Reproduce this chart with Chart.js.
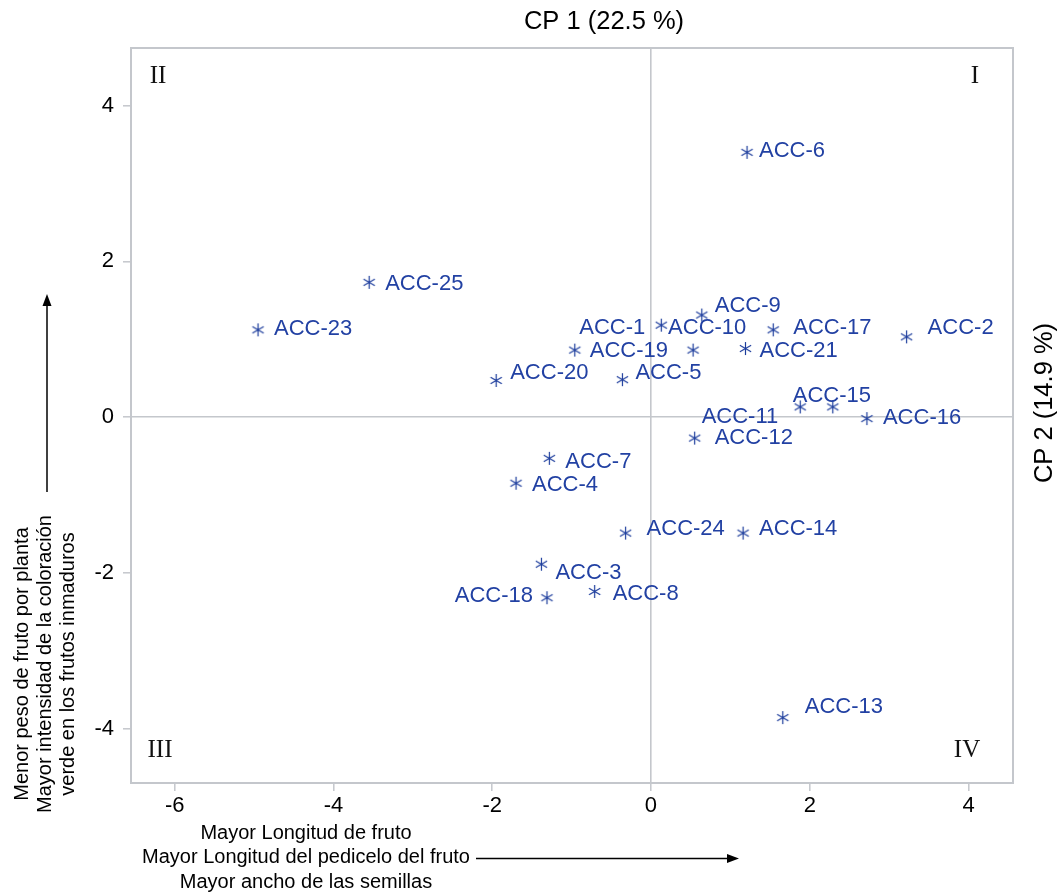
<!DOCTYPE html>
<html>
<head>
<meta charset="utf-8">
<script src="https://cdn.jsdelivr.net/npm/chart.js@4.4.0/dist/chart.umd.min.js"></script>
<style>
  html, body { margin: 0; padding: 0; background: #fff; }
  #wrap { width: 1062px; height: 892px; position: relative; }
</style>
</head>
<body>
<div id="wrap"><canvas id="pca"></canvas></div>
<script>
// accession scores on the first two principal components
const names = ['ACC-1', 'ACC-2', 'ACC-3', 'ACC-4', 'ACC-5', 'ACC-6', 'ACC-7', 'ACC-8',
  'ACC-9', 'ACC-10', 'ACC-11', 'ACC-12', 'ACC-13', 'ACC-14', 'ACC-15', 'ACC-16',
  'ACC-17', 'ACC-18', 'ACC-19', 'ACC-20', 'ACC-21', 'ACC-23', 'ACC-24', 'ACC-25'];
const cp1 = [0.13, 3.22, -1.38, -1.70, -0.36, 1.21, -1.28, -0.71,
  0.64, 0.53, 1.88, 0.55, 1.66, 1.16, 2.29, 2.72,
  1.54, -1.31, -0.96, -1.95, 1.19, -4.95, -0.32, -3.55];
const cp2 = [1.18, 1.03, -1.89, -0.85, 0.48, 3.40, -0.53, -2.24,
  1.31, 0.86, 0.13, -0.27, -3.86, -1.49, 0.13, -0.02,
  1.12, -2.32, 0.86, 0.47, 0.88, 1.12, -1.49, 1.73];
const xTicks = [-6, -4, -2, 0, 2, 4];
const yTicks = [-4, -2, 0, 2, 4];
const quadrants = ['I', 'II', 'III', 'IV'];

const titleX = 'CP 1 (22.5 %)';
const titleY = 'CP 2 (14.9 %)';
const leftNote = ['Menor peso de fruto por planta', 'Mayor intensidad de la coloración', 'verde en los frutos inmaduros'];
const bottomNote = ['Mayor Longitud de fruto', 'Mayor Longitud del pedicelo del fruto', 'Mayor ancho de las semillas'];

// where each label sits relative to its point: [dx, dy, align]
const labelPlace = {
  'ACC-1': [-16, 1, 'right'], 'ACC-2': [21, -11], 'ACC-3': [14, 7], 'ACC-4': [16, 0],
  'ACC-5': [13, -9], 'ACC-6': [12, -3], 'ACC-7': [16, 2], 'ACC-8': [18, 1],
  'ACC-9': [13, -11], 'ACC-10': [-25, -24], 'ACC-11': [-22, 8, 'right'], 'ACC-12': [20, -2],
  'ACC-13': [22, -13], 'ACC-14': [16, -6], 'ACC-15': [-40, -13], 'ACC-16': [16, -3],
  'ACC-17': [20, -4], 'ACC-18': [-14, -4, 'right'], 'ACC-19': [15, -1], 'ACC-20': [14, -9],
  'ACC-21': [14, 0], 'ACC-23': [16, -3], 'ACC-24': [21, -6], 'ACC-25': [16, 0]
};

const blue = '#2241a3';
const starBlue = '#1c3c9c';
const frame = '#c4c7cc';
const sans = '"Liberation Sans", Arial, sans-serif';
const serif = '"Liberation Serif", "Times New Roman", serif';

// six-armed asterisk marker
function asterisk(size, color) {
  const c = document.createElement('canvas');
  c.width = size + 2; c.height = size + 2;
  const g = c.getContext('2d');
  const m = (size + 2) / 2, r = size / 2;
  g.strokeStyle = color; g.lineWidth = 1.2;
  [90, 30, 150].forEach(a => {
    const t = a * Math.PI / 180;
    g.beginPath();
    g.moveTo(m - r * Math.cos(t), m - r * Math.sin(t));
    g.lineTo(m + r * Math.cos(t), m + r * Math.sin(t));
    g.stroke();
  });
  return c;
}

const decorations = {
  id: 'decorations',
  afterDatasetsDraw(chart) {
    const { ctx, chartArea: a } = chart;
    const meta = chart.getDatasetMeta(0);
    ctx.save();
    // frame
    ctx.strokeStyle = frame; ctx.lineWidth = 2;
    ctx.strokeRect(a.left, a.top, a.right - a.left, a.bottom - a.top);

    // point labels
    ctx.fillStyle = blue;
    ctx.font = '22px ' + sans;
    ctx.textBaseline = 'alphabetic';
    meta.data.forEach((pt, i) => {
      const p = labelPlace[names[i]] || [14, 0];
      ctx.textAlign = p[2] || 'left';
      ctx.fillText(names[i], pt.x + p[0], pt.y + p[1] + 8);
    });

    // quadrant numerals
    ctx.fillStyle = '#111';
    ctx.font = '25px ' + serif;
    ctx.textAlign = 'center'; ctx.textBaseline = 'middle';
    ctx.fillText(quadrants[0], a.right - 38, a.top + 28);
    ctx.fillText(quadrants[1], a.left + 27, a.top + 28);
    ctx.fillText(quadrants[2], a.left + 29, a.bottom - 33);
    ctx.fillText(quadrants[3], a.right - 46, a.bottom - 33);

    // axis titles
    ctx.fillStyle = '#000';
    ctx.font = '25.5px ' + sans;
    ctx.fillText(titleX, 604, 22);
    ctx.save();
    ctx.translate(1045, 403);
    ctx.rotate(-Math.PI / 2);
    ctx.fillText(titleY, 0, 0);
    ctx.restore();

    // left note with arrow
    ctx.font = '20px ' + sans;
    ctx.save();
    ctx.translate(0, 664);
    ctx.rotate(-Math.PI / 2);
    leftNote.forEach((t, i) => ctx.fillText(t, 0, 22 + i * 23));
    ctx.restore();
    ctx.strokeStyle = '#000'; ctx.lineWidth = 1.5;
    ctx.beginPath(); ctx.moveTo(47, 492); ctx.lineTo(47, 304); ctx.stroke();
    ctx.beginPath(); ctx.moveTo(47, 294); ctx.lineTo(42.5, 306); ctx.lineTo(51.5, 306); ctx.closePath(); ctx.fill();

    // bottom note with arrow
    bottomNote.forEach((t, i) => ctx.fillText(t, 306, 833 + i * 24.5));
    ctx.beginPath(); ctx.moveTo(476, 858.5); ctx.lineTo(728, 858.5); ctx.stroke();
    ctx.beginPath(); ctx.moveTo(739, 858.5); ctx.lineTo(727, 854); ctx.lineTo(727, 863); ctx.closePath(); ctx.fill();
    ctx.restore();
  }
};

const axisGrid = {
  drawOnChartArea: true,
  color: c => (c.tick && c.tick.value === 0 ? frame : 'transparent'),
  lineWidth: 1.6,
  tickColor: frame,
  tickLength: 8,
  tickWidth: 1.5
};

new Chart(document.getElementById('pca'), {
  type: 'scatter',
  data: {
    datasets: [{
      data: cp1.map((x, i) => ({ x: x, y: cp2[i] })),
      pointStyle: asterisk(13, starBlue),
      pointRadius: 7,
      pointHoverRadius: 7
    }]
  },
  plugins: [decorations],
  options: {
    responsive: true,
    maintainAspectRatio: false,
    animation: false,
    events: [],
    layout: { padding: { left: 0, top: 48, right: 49, bottom: 0 } },
    plugins: { legend: { display: false }, tooltip: { enabled: false } },
    scales: {
      x: {
        type: 'linear', min: -6.55, max: 4.56,
        afterBuildTicks: s => { s.ticks = xTicks.map(v => ({ value: v })); },
        afterFit: s => { s.height = 109; },
        border: { display: false },
        grid: axisGrid,
        ticks: { color: '#000', font: { family: sans, size: 22 }, padding: 2, maxRotation: 0 }
      },
      y: {
        type: 'linear', min: -4.70, max: 4.74,
        afterBuildTicks: s => { s.ticks = yTicks.map(v => ({ value: v })); },
        afterFit: s => { s.width = 131; },
        border: { display: false },
        grid: axisGrid,
        ticks: { color: '#000', font: { family: sans, size: 22 }, padding: 9 }
      }
    }
  }
});
</script>
</body>
</html>
